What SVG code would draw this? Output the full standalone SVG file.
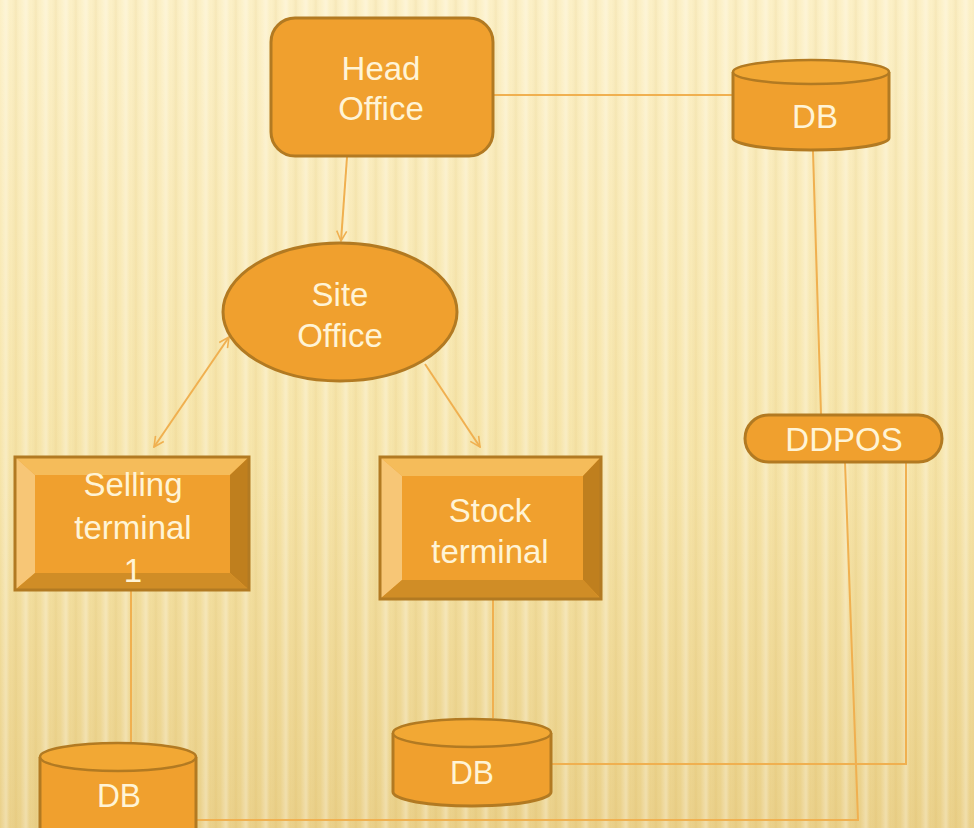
<svg xmlns="http://www.w3.org/2000/svg" width="974" height="828" viewBox="0 0 974 828">
<defs>
<linearGradient id="bg" x1="0" y1="0" x2="0" y2="1">
<stop offset="0" stop-color="#fcf0c6"/>
<stop offset="0.55" stop-color="#f6e4a8"/>
<stop offset="1" stop-color="#ead088"/>
</linearGradient>
<linearGradient id="stripeGrad" x1="0" y1="0" x2="1" y2="0">
<stop offset="0" stop-color="#ffffff" stop-opacity="0"/>
<stop offset="0.3" stop-color="#ffffff" stop-opacity="0.3"/>
<stop offset="0.5" stop-color="#ffffff" stop-opacity="0"/>
<stop offset="0.8" stop-color="#c29a3a" stop-opacity="0.1"/>
<stop offset="1" stop-color="#ffffff" stop-opacity="0"/>
</linearGradient>
<pattern id="stripes" width="20" height="828" patternUnits="userSpaceOnUse">
<rect x="0" y="0" width="20" height="828" fill="url(#stripeGrad)"/>
</pattern>
<marker id="arr" viewBox="0 0 12 12" refX="11" refY="6" markerWidth="12" markerHeight="12" markerUnits="userSpaceOnUse" orient="auto-start-reverse">
<path d="M1,1 L11,6 L1,11" fill="none" stroke="#f0b050" stroke-width="1.6"/>
</marker>
<style>
.node{fill:#f0a02e;stroke:#b27a22;stroke-width:3}
.top{fill:#f2a834;stroke:#b27a22;stroke-width:2.5}
.lbl{font-family:"Liberation Sans",Arial,sans-serif;font-size:33px;fill:#fff4d6;text-anchor:middle}
.conn{fill:none;stroke:#f0b050;stroke-width:2}
</style>
</defs>
<rect width="974" height="828" fill="url(#bg)"/>
<rect width="974" height="828" fill="url(#stripes)"/>

<g id="connectors">
<line class="conn" x1="493" y1="95" x2="733" y2="95"/>
<line class="conn" x1="347" y1="157" x2="341" y2="241" marker-end="url(#arr)"/>
<line class="conn" x1="229" y1="337" x2="154" y2="447" marker-start="url(#arr)" marker-end="url(#arr)"/>
<line class="conn" x1="425" y1="364" x2="480" y2="447" marker-end="url(#arr)"/>
<line class="conn" x1="813" y1="151" x2="821" y2="415"/>
<line class="conn" x1="131" y1="590" x2="131" y2="744"/>
<line class="conn" x1="493" y1="600" x2="493" y2="718"/>
<polyline class="conn" points="845,462 858,820 196,820"/>
<polyline class="conn" points="906,462 906,764 552,764"/>
</g>

<g id="head-office">
<rect class="node" x="271" y="18" width="222" height="138" rx="24"/>
<text class="lbl" x="381" y="80">Head</text>
<text class="lbl" x="381" y="120">Office</text>
</g>

<g id="db-top">
<path class="node" d="M733,72 L733,138 A78,12 0 0 0 889,138 L889,72"/>
<ellipse class="top" cx="811" cy="72" rx="78" ry="12"/>
<text class="lbl" x="815" y="128" font-size="30">DB</text>
</g>

<g id="site-office">
<ellipse class="node" cx="340" cy="312" rx="117" ry="69"/>
<text class="lbl" x="340" y="306">Site</text>
<text class="lbl" x="340" y="347">Office</text>
</g>

<g id="selling-terminal">
<rect x="15" y="457" width="234" height="133" fill="#f0a02e"/>
<polygon points="15,457 249,457 230,475 35,475" fill="#f5bc5a"/>
<polygon points="15,457 35,475 35,573 15,590" fill="#f7c676"/>
<polygon points="249,457 249,590 230,573 230,475" fill="#bf7f1e"/>
<polygon points="15,590 249,590 230,573 35,573" fill="#d08d26"/>
<rect x="15" y="457" width="234" height="133" fill="none" stroke="#b27a22" stroke-width="3"/>
<text class="lbl" x="133" y="496">Selling</text>
<text class="lbl" x="133" y="539">terminal</text>
<text class="lbl" x="133" y="582">1</text>
</g>

<g id="stock-terminal">
<rect x="380" y="457" width="221" height="142" fill="#f0a02e"/>
<polygon points="380,457 601,457 583,476 402,476" fill="#f5bc5a"/>
<polygon points="380,457 402,476 402,580 380,599" fill="#f7c676"/>
<polygon points="601,457 601,599 583,580 583,476" fill="#bf7f1e"/>
<polygon points="380,599 601,599 583,580 402,580" fill="#d08d26"/>
<rect x="380" y="457" width="221" height="142" fill="none" stroke="#b27a22" stroke-width="3"/>
<text class="lbl" x="490" y="522">Stock</text>
<text class="lbl" x="490" y="563">terminal</text>
</g>

<g id="ddpos">
<rect class="node" x="745" y="415" width="197" height="47" rx="23.5"/>
<text class="lbl" x="844" y="451" font-size="29">DDPOS</text>
</g>

<g id="db-stock">
<path class="node" d="M393,733 L393,792 A79,14 0 0 0 551,792 L551,733"/>
<ellipse class="top" cx="472" cy="733" rx="79" ry="14"/>
<text class="lbl" x="472" y="784" font-size="32" textLength="44" lengthAdjust="spacingAndGlyphs">DB</text>
</g>

<g id="db-selling">
<path class="node" d="M40,757 L40,830 L196,830 L196,757"/>
<ellipse class="top" cx="118" cy="757" rx="78" ry="14"/>
<text class="lbl" x="119" y="807" font-size="32" textLength="44" lengthAdjust="spacingAndGlyphs">DB</text>
</g>
</svg>
